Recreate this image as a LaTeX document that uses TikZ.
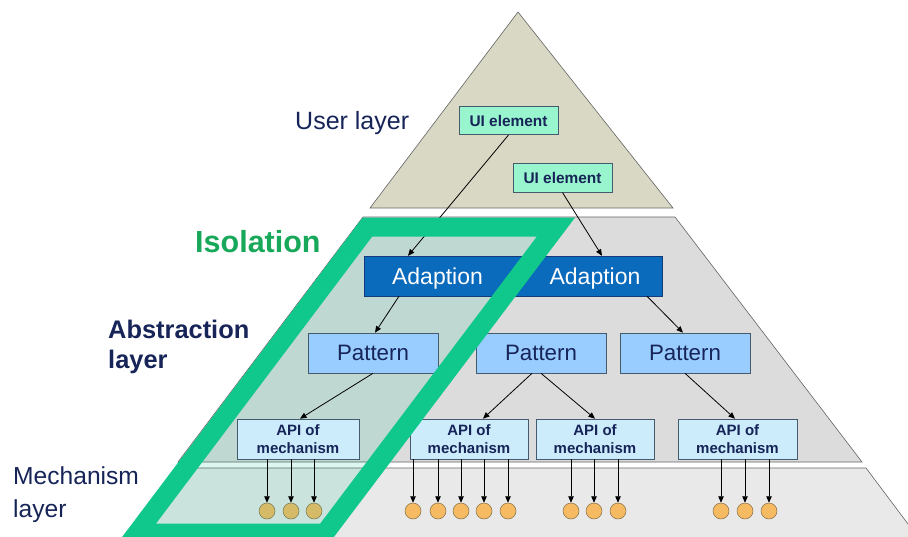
\documentclass[tikz,border=0pt]{standalone}
\usepackage{fontspec}
\setmainfont{Liberation Sans}
\usetikzlibrary{arrows.meta,calc}
\definecolor{navy}{RGB}{22,36,88}
\definecolor{topband}{RGB}{216,216,196}
\definecolor{midband}{RGB}{220,220,220}
\definecolor{lowband}{RGB}{233,233,233}
\definecolor{bandline}{RGB}{100,100,100}
\definecolor{isogreen}{RGB}{16,200,140}
\definecolor{isotext}{RGB}{24,168,90}
\definecolor{isofill}{RGB}{0,190,140}
\definecolor{adaptblue}{RGB}{10,106,188}
\definecolor{adaptline}{RGB}{20,60,120}
\definecolor{patblue}{RGB}{153,204,255}
\definecolor{apiblue}{RGB}{204,236,252}
\definecolor{uigreen}{RGB}{152,245,206}
\definecolor{boxline}{RGB}{70,90,110}
\definecolor{mechorange}{RGB}{245,186,98}
\definecolor{mechline}{RGB}{130,110,70}
\tikzset{
  band/.style={draw=bandline,line width=0.6pt},
  uibox/.style={draw=boxline,fill=uigreen,line width=0.6pt,inner sep=0pt,minimum width=99pt,minimum height=28.5pt,font=\fontsize{15.4}{18}\selectfont\bfseries,text=navy},
  adapttext/.style={inner sep=0pt,minimum height=40pt,text depth=0pt,font=\fontsize{23}{27}\selectfont,text=white},
  patbox/.style={draw=boxline,fill=patblue,line width=0.6pt,inner sep=0pt,minimum width=130pt,minimum height=40pt,text depth=0pt,font=\fontsize{22.3}{26}\selectfont,text=navy},
  apibox/.style={draw=boxline,fill=apiblue,line width=0.6pt,inner sep=0pt,minimum height=40pt,align=center,font=\fontsize{15}{18}\selectfont\bfseries,text=navy},
  mech/.style={circle,draw=mechline,fill=mechorange,line width=0.5pt,inner sep=0pt,minimum size=16pt},
  conn/.style={draw=black,line width=0.8pt,-{Triangle[length=6.5pt,width=5.5pt]}},
  lbl/.style={inner sep=0pt,anchor=base west,text=navy},
}
\begin{document}
\begin{tikzpicture}[x=1pt,y=-1pt]
\useasboundingbox (0,0) rectangle (908,536);
\clip (0,0) rectangle (908,536);
\fill[white] (0,0) rectangle (908,536);
% pyramid bands
\draw[band,fill=topband] (518,12) -- (673,208) -- (370,208) -- cycle;
\draw[band,fill=midband] (363,217) -- (675,217) -- (862,462) -- (178,462) -- cycle;
\draw[band,fill=lowband] (175,468) -- (866,468) -- (920,540) -- (120,540);
% mechanisms
\foreach \n/\x in {1/267,2/291,3/314,4/413,5/438,6/461,7/484,8/508,9/571,10/594,11/618,12/721,13/745,14/769}
  \node[mech] (c\n) at (\x,511) {};
% isolation fill
\fill[isofill,fill opacity=0.13] (367.5,227) -- (556,227) -- (325,533) -- (137,533) -- cycle;
% UI elements
\node[uibox] (ui1) at (508.5,120.5) {UI element};
\node[uibox] (ui2) at (562.5,178) {UI element};
% adaption
\coordinate (adNW) at (364,256);
\coordinate (adSE) at (662,296);
\fill[adaptblue] (adNW) rectangle (adSE);
\draw[adaptline,line width=0.6pt] (adNW) rectangle (adSE);
\node[adapttext,minimum width=147pt] (adL) at (437.5,276) {Adaption};
\node[adapttext,minimum width=134pt] (adR) at (595,276) {Adaption};
% patterns
\node[patbox] (pL) at (373,353) {Pattern};
\node[patbox] (pM) at (541,353) {Pattern};
\node[patbox] (pR) at (685,353) {Pattern};
% APIs
\node[apibox,minimum width=122pt] (a1) at (298,439) {API of\\mechanism};
\node[apibox,minimum width=118pt] (a2) at (469,439) {API of\\mechanism};
\node[apibox,minimum width=118pt] (a3) at (595,439) {API of\\mechanism};
\node[apibox,minimum width=119pt] (a4) at (737.5,439) {API of\\mechanism};
% connectors
\draw[conn] (ui1.south) -- ([xshift=-29.5pt]adL.north);
\draw[conn] (ui2.south) -- ([xshift=7pt]adR.north);
\draw[conn] ([xshift=-38.5pt]adL.south) -- ([xshift=2pt]pL.north);
\draw[conn] ([xshift=52pt]adR.south) -- ([xshift=-2pt]pR.north);
\draw[conn] (pL.south) -- ([xshift=2pt]a1.north);
\draw[conn] ([xshift=-9pt]pM.south) -- ([xshift=14pt]a2.north);
\draw[conn] (pM.south) -- (a3.north);
\draw[conn] (pR.south) -- ([xshift=-2.5pt]a4.north);
\foreach \n in {1,2,3} \draw[conn] (a1.south -| c\n) -- (c\n.north);
\foreach \n in {4,5,6,7,8} \draw[conn] (a2.south -| c\n) -- (c\n.north);
\foreach \n in {9,10,11} \draw[conn] (a3.south -| c\n) -- (c\n.north);
\foreach \n in {12,13,14} \draw[conn] (a4.south -| c\n) -- (c\n.north);
% isolation frame
\draw[isogreen,line width=19pt,line join=miter] (367.5,227) -- (556,227) -- (325,533) -- (137,533) -- cycle;
% labels
\node[lbl,font=\fontsize{25}{30}\selectfont] (user) at (295,129) {User layer};
\node[lbl,font=\fontsize{30.5}{36}\selectfont\bfseries,text=isotext] (iso) at (195,252) {Isolation};
\node[lbl,font=\fontsize{25.4}{30}\selectfont\bfseries] (abs1) at (108,338) {Abstraction};
\node[lbl,font=\fontsize{25.4}{30}\selectfont\bfseries] (abs2) at (108,368) {layer};
\node[lbl,font=\fontsize{24.6}{30}\selectfont] (mech1) at (13,484) {Mechanism};
\node[lbl,font=\fontsize{24.6}{30}\selectfont] (mech2) at (13,517) {layer};
\end{tikzpicture}
\end{document}
